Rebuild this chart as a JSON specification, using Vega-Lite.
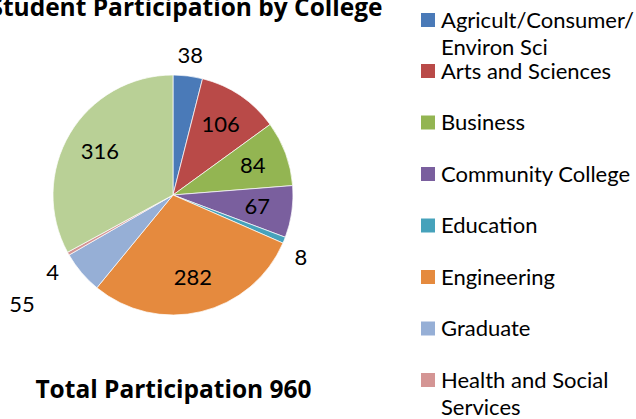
{
  "$schema": "https://vega.github.io/schema/vega-lite/v6.json",
  "autosize": "none",
  "width": 344,
  "height": 320,
  "padding": {"left": 1, "top": 35, "right": 291, "bottom": 64},
  "background": "white",
  "config": {"view": {"stroke": null}, "style": {"guide-label": {"lineHeight": 27}}},
  "data": {"values": [
    {"college": "Agricult/Consumer/Environ Sci", "participants": 38},
    {"college": "Arts and Sciences", "participants": 106},
    {"college": "Business", "participants": 84},
    {"college": "Community College", "participants": 67},
    {"college": "Education", "participants": 8},
    {"college": "Engineering", "participants": 282},
    {"college": "Graduate", "participants": 55},
    {"college": "Health and Social Services", "participants": 4},
    {"college": "Other", "participants": 316}
  ]},
  "layer": [
    {
      "mark": {"type": "arc", "outerRadius": 120, "stroke": "white", "strokeWidth": 0.7},
      "encoding": {
        "theta": {"field": "participants", "type": "quantitative", "stack": true},
        "order": {"field": "college", "type": "ordinal"},
        "color": {
          "field": "college", "type": "nominal",
          "scale": {
            "domain": ["Agricult/Consumer/Environ Sci", "Arts and Sciences", "Business", "Community College", "Education", "Engineering", "Graduate", "Health and Social Services", "Other"],
            "range": ["#4A7AB8", "#B94A48", "#93B552", "#7A5F9E", "#46A2BB", "#E58A3E", "#96AFD6", "#D49594", "#B9D096"]
          },
          "legend": {
            "orient": "none", "legendX": 416, "legendY": 15.5, "title": null, "padding": 0,
            "values": ["Arts and Sciences", "Business", "Community College", "Education", "Engineering", "Graduate", "Health and Social Services", "Other"],
            "symbolType": "M-1,0.357H1V2.357H-1Z", "symbolSize": 196, "symbolStrokeWidth": 0, "symbolOpacity": 1,
            "labelFont": "Lato", "labelFontSize": 22, "labelColor": "black", "labelOffset": 2, "labelBaseline": "top",
            "labelLimit": 300, "rowPadding": 19.5,
            "labelExpr": "datum.label == 'Health and Social Services' ? ['Health and Social', 'Services'] : datum.label"
          }
        }
      }
    },
    {
      "mark": {"type": "text", "radius": 85, "font": "Lato", "fontSize": 22, "color": "black"},
      "encoding": {
        "theta": {"field": "participants", "type": "quantitative", "stack": true},
        "order": {"field": "college", "type": "ordinal"},
        "text": {"condition": {"test": "datum.participants >= 60", "field": "participants", "type": "quantitative"}, "value": ""}
      }
    },
    {
      "mark": {"type": "text", "radius": 140, "font": "Lato", "fontSize": 22, "color": "black"},
      "encoding": {
        "theta": {"field": "participants", "type": "quantitative", "stack": true},
        "order": {"field": "college", "type": "ordinal"},
        "text": {"condition": {"test": "datum.participants == 38", "field": "participants", "type": "quantitative"}, "value": ""}
      }
    },
    {
      "mark": {"type": "text", "radius": 138, "dy": 11, "font": "Lato", "fontSize": 22, "color": "black"},
      "encoding": {
        "theta": {"field": "participants", "type": "quantitative", "stack": true},
        "order": {"field": "college", "type": "ordinal"},
        "text": {"condition": {"test": "datum.participants == 8 || datum.participants == 4", "field": "participants", "type": "quantitative"}, "value": ""}
      }
    },
    {
      "mark": {"type": "text", "radius": 185, "dx": -10, "dy": -10, "font": "Lato", "fontSize": 22, "color": "black"},
      "encoding": {
        "theta": {"field": "participants", "type": "quantitative", "stack": true},
        "order": {"field": "college", "type": "ordinal"},
        "text": {"condition": {"test": "datum.participants == 55", "field": "participants", "type": "quantitative"}, "value": ""}
      }
    },
    {
      "data": {"values": []},
      "mark": {"type": "square", "filled": true},
      "encoding": {
        "x": {"field": "x", "type": "quantitative", "scale": {"domain": [0, 1]},
          "axis": {"title": "Total Participation 960", "labels": false, "ticks": false, "domain": false, "grid": false,
            "titleFont": "Open Sans", "titleFontSize": 24.5, "titleFontWeight": "bold", "titleColor": "black",
            "titleBaseline": "alphabetic", "titleY": 42}},
        "y": {"field": "y", "type": "quantitative", "scale": {"domain": [0, 1]},
          "axis": {"title": "Student Participation by College", "labels": false, "ticks": false, "domain": false, "grid": false,
            "titleFont": "Open Sans", "titleFontSize": 24.5, "titleFontWeight": "bold", "titleColor": "black",
            "titleAngle": 0, "titleAlign": "center", "titleBaseline": "alphabetic", "titleX": 184.5, "titleY": -19.5}},
        "fill": {
          "field": "collegeName", "type": "nominal",
          "scale": {"domain": ["Agricult/Consumer/Environ Sci"], "range": ["#4A7AB8"]},
          "legend": {
            "orient": "none", "legendX": 416, "legendY": -35.5, "title": null, "padding": 0,
            "symbolType": "M-1,0.357H1V2.357H-1Z", "symbolSize": 196, "symbolStrokeWidth": 0, "symbolOpacity": 1,
            "labelFont": "Lato", "labelFontSize": 22, "labelColor": "black", "labelOffset": 2, "labelBaseline": "top",
            "labelLimit": 300,
            "labelExpr": "datum.label == 'Agricult/Consumer/Environ Sci' ? ['Agricult/Consumer/', 'Environ Sci'] : datum.label"
          }
        }
      }
    }
  ]
}
